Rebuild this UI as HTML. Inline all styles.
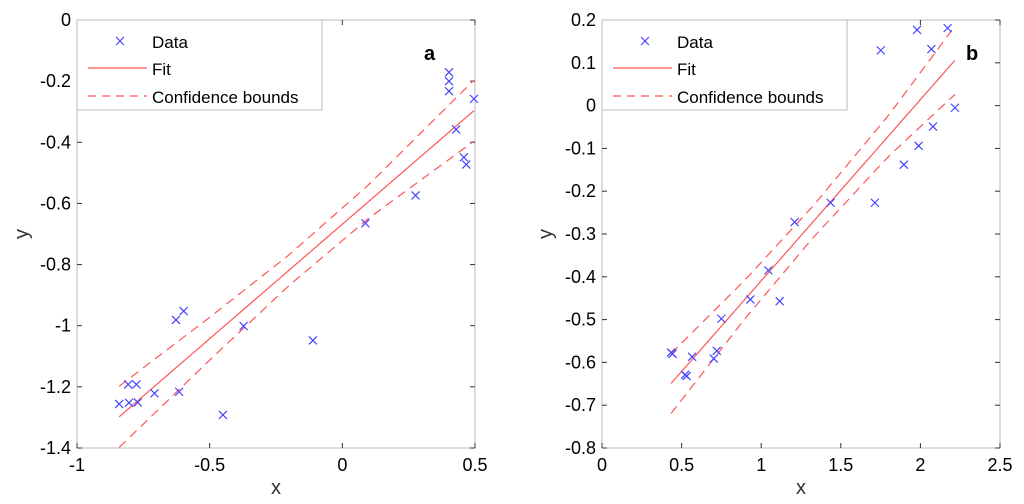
<!DOCTYPE html>
<html><head><meta charset="utf-8"><style>
body{margin:0;background:#fff;width:1024px;height:499px;overflow:hidden}
svg{font-family:"Liberation Sans",Arial,sans-serif}
</style></head><body>
<svg id="c" width="1024" height="499"></svg>
<script>
// Panel a data
const aX=[-0.841,-0.807,-0.804,-0.776,-0.771,-0.708,-0.627,-0.598,-0.615,-0.450,-0.372,-0.111,0.087,0.276,0.402,0.402,0.402,0.429,0.458,0.467,0.496];
const aY=[-1.256,-1.192,-1.252,-1.192,-1.251,-1.221,-0.981,-0.952,-1.216,-1.292,-1.001,-1.048,-0.665,-0.574,-0.171,-0.200,-0.233,-0.358,-0.449,-0.473,-0.258];
const aFit=[0.749,-0.668];
const aBoundX=[-0.84,-0.5,-0.2,0.1,0.5];
const aBoundHW=[0.1,0.07,0.05,0.055,0.1];
const aXTicks=[-1,-0.5,0,0.5];
const aYTicks=[0,-0.2,-0.4,-0.6,-0.8,-1,-1.2,-1.4];
// Panel b data
const bX=[0.434,0.443,0.522,0.532,0.566,0.702,0.721,0.75,0.932,1.045,1.116,1.21,1.436,1.714,1.751,1.896,1.979,1.989,2.069,2.079,2.171,2.217];
const bY=[-0.577,-0.58,-0.629,-0.632,-0.587,-0.591,-0.573,-0.498,-0.453,-0.385,-0.457,-0.272,-0.227,-0.227,0.129,-0.138,0.177,-0.094,0.132,-0.049,0.181,-0.005];
const bFit=[0.4235,-0.833];
const bBoundX=[0.434,0.9,1.33,1.8,2.22];
const bBoundHW=[0.07,0.045,0.037,0.048,0.08];
const bXTicks=[0,0.5,1,1.5,2,2.5];
const bYTicks=[0.2,0.1,0,-0.1,-0.2,-0.3,-0.4,-0.5,-0.6,-0.7,-0.8];

const svg=document.getElementById('c');
const NS='http://www.w3.org/2000/svg';
function mk(t,a,p){const e=document.createElementNS(NS,t);for(const k in a)e.setAttribute(k,a[k]);(p||svg).appendChild(e);return e;}
function fmt(v){return (Math.round(v*10)/10).toString();}
function hwAt(bx,bh,x){if(x<=bx[0])return bh[0];for(let i=1;i<bx.length;i++){if(x<=bx[i]){const t=(x-bx[i-1])/(bx[i]-bx[i-1]);return bh[i-1]+t*(bh[i]-bh[i-1]);}}return bh[bh.length-1];}

function panel(o){
  const g=mk('g',{});
  
  
  const L=o.L,R=o.R,T=20,B=448;
  const sx=v=>L+(v-o.x0)/(o.x1-o.x0)*(R-L);
  const sy=v=>B-(v-o.y0)/(o.y1-o.y0)*(B-T);
  const box=mk('rect',{x:L,y:T,width:R-L,height:B-T,fill:'#fff',stroke:'#bbb','stroke-width':1},g);
  
  o.xt.forEach(v=>{const x=sx(v);
    mk('line',{x1:x,y1:B,x2:x,y2:B-5,stroke:'#333'},g);mk('line',{x1:x,y1:T,x2:x,y2:T+5,stroke:'#333'},g);
    const t=mk('text',{x:x,y:B+23,'font-size':18,'text-anchor':'middle',fill:'#000'},g);t.textContent=fmt(v);
    });
  o.yt.forEach(v=>{const y=sy(v);
    mk('line',{x1:L,y1:y,x2:L+5,y2:y,stroke:'#333'},g);mk('line',{x1:R,y1:y,x2:R-5,y2:y,stroke:'#333'},g);
    const t=mk('text',{x:L-6,y:y+6,'font-size':18,'text-anchor':'end',fill:'#000'},g);t.textContent=fmt(v);
    });
  const xs=Math.min(...o.X),xe=Math.max(...o.X);
  let pf='',pu='',pl='';
  for(let i=0;i<=40;i++){const x=xs+(xe-xs)*i/40;const y=o.fit[0]*x+o.fit[1];const h=hwAt(o.bx,o.bh,x);
    const c=i?'L':'M';pf+=c+sx(x)+','+sy(y);pu+=c+sx(x)+','+sy(y+h);pl+=c+sx(x)+','+sy(Math.max(y-h,o.y0));}
  const f=mk('path',{d:pf,fill:'none',stroke:'#f55','stroke-width':1.2},g);
  const u=mk('path',{d:pu,fill:'none',stroke:'#f55','stroke-width':1.2,'stroke-dasharray':'9,6'},g);
  const lo=mk('path',{d:pl,fill:'none',stroke:'#f55','stroke-width':1.2,'stroke-dasharray':'9,6'},g);
  o.X.forEach((xv,i)=>{const x=sx(xv),y=sy(o.Y[i]);
    const p=mk('path',{d:`M${x-4},${y-4}L${x+4},${y+4}M${x-4},${y+4}L${x+4},${y-4}`,stroke:'#44f','stroke-width':1.2},g);
    });
  const lg=mk('g',{},g);
  mk('rect',{x:L,y:T,width:o.lw,height:90,fill:'#fff',stroke:'#bbb'},lg);
  const lx=L+43,tx=L+75;
  mk('path',{d:`M${lx-4},${T+17}L${lx+4},${T+25}M${lx-4},${T+25}L${lx+4},${T+17}`,stroke:'#44f','stroke-width':1.2},lg);
  mk('line',{x1:L+11,y1:T+48,x2:L+70,y2:T+48,stroke:'#f55','stroke-width':1.2},lg);
  mk('line',{x1:L+11,y1:T+76,x2:L+70,y2:T+76,stroke:'#f55','stroke-width':1.2,'stroke-dasharray':'8,6'},lg);
  [['Data',T+28],['Fit',T+55],['Confidence bounds',T+83]].forEach(a=>{const t=mk('text',{x:tx,y:a[1],'font-size':17,fill:'#000'},lg);t.textContent=a[0];
    });
  const pl2=mk('text',{x:o.lbx,y:60,'font-size':20,'font-weight':'bold',fill:'#000'},g);pl2.textContent=o.lab;
  
  const xl=mk('text',{x:(L+R)/2,y:494,'font-size':20,'text-anchor':'middle',fill:'#333'},g);xl.textContent='x';
  
  const yl=mk('text',{x:o.ylx,y:240,'font-size':20,'text-anchor':'middle',fill:'#333',transform:`rotate(-90 ${o.ylx} 234)`},g);yl.textContent='y';
  
}
panel({name:'panel-a',L:77,R:475,x0:-1,x1:0.5,y0:-1.4,y1:0,X:aX,Y:aY,fit:aFit,bx:aBoundX,bh:aBoundHW,xt:aXTicks,yt:aYTicks,lw:245,lab:'a',lbx:424,ylx:22});
panel({name:'panel-b',L:602,R:1000,x0:0,x1:2.5,y0:-0.8,y1:0.2,X:bX,Y:bY,fit:bFit,bx:bBoundX,bh:bBoundHW,xt:bXTicks,yt:bYTicks,lw:245,lab:'b',lbx:966,ylx:546});
</script>
</body></html>
